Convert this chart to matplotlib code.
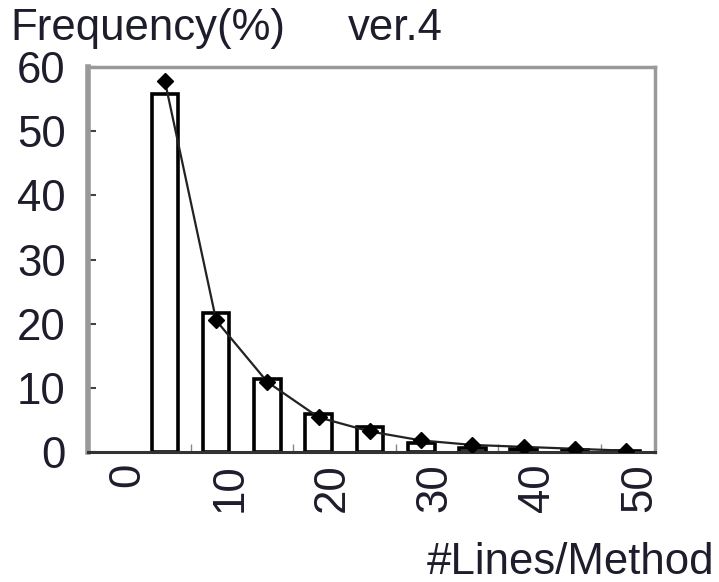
import matplotlib
matplotlib.use("Agg")
import matplotlib.pyplot as plt
import matplotlib.transforms as mtransforms

plt.rcParams['font.family'] = ['Liberation Sans', 'DejaVu Sans']

# Histogram of method sizes (lines per method), 5-line bins
bin_centers = [2.5, 7.5, 12.5, 17.5, 22.5, 27.5, 32.5, 37.5, 42.5, 47.5]
bar_freq = [55.8, 21.7, 11.3, 6.0, 3.9, 1.4, 0.7, 0.4, 0.3, 0.1]
fit_freq = [57.8, 20.5, 10.9, 5.4, 3.2, 1.8, 1.1, 0.8, 0.5, 0.2]
x_ticks = [0, 10, 20, 30, 40, 50]
x_tick_labels = ["0", "10", "20", "30", "40", "50"]
y_ticks = [0, 10, 20, 30, 40, 50, 60]
y_tick_labels = ["0", "10", "20", "30", "40", "50", "60"]

text_color = "#1d1d2b"
fs = 31.5

fig = plt.figure(figsize=(7.19, 5.82), dpi=100)
ax = fig.add_axes([88 / 719, 1 - 452 / 582, (655 - 88) / 719, (452 - 67) / 582])

ax.bar(bin_centers, bar_freq, width=2.6, color="white", edgecolor="black",
       linewidth=2.6, zorder=2)
ax.plot(bin_centers, fit_freq, color="#222222", linewidth=1.6, marker="D",
        markersize=8.5, markerfacecolor="black", markeredgecolor="black", zorder=3)

ax.set_xlim(-5, 50.3)
ax.set_ylim(0, 60)

ax.set_yticks(y_ticks)
ax.set_yticklabels(y_tick_labels, fontsize=fs, color=text_color)
ax.set_xticks(x_ticks)
ax.set_xticklabels(x_tick_labels, fontsize=fs, color=text_color, rotation=90,
                   ha="center", va="top")
ax.set_xticks(range(0, 51, 5), minor=True)
ax.tick_params(axis="y", direction="in", length=6, width=1.5, color="#444444", pad=16)
ax.tick_params(axis="x", which="major", direction="in", length=0, pad=8)
ax.tick_params(axis="x", which="minor", direction="in", length=6, width=1, color="#888888")

offset = mtransforms.ScaledTranslation(-12 / 100, 0, fig.dpi_scale_trans)
for lab in ax.get_xticklabels():
    lab.set_transform(lab.get_transform() + offset)

for side in ("left", "top", "right"):
    ax.spines[side].set_color("#999999")
    ax.spines[side].set_linewidth(2.5)
ax.spines["left"].set_linewidth(4)
ax.spines["bottom"].set_color("#333333")
ax.spines["bottom"].set_linewidth(2.2)

fig.text(10 / 719, 1 - 40 / 582, "Frequency(%)", fontsize=fs, color=text_color,
         ha="left", va="baseline")
fig.text(348 / 719, 1 - 40 / 582, "ver.4", fontsize=fs, color=text_color,
         ha="left", va="baseline")
fig.text(714 / 719, 1 - 574 / 582, "#Lines/Method", fontsize=fs, color=text_color,
         ha="right", va="baseline")

fig.savefig("out.png", dpi=100)
